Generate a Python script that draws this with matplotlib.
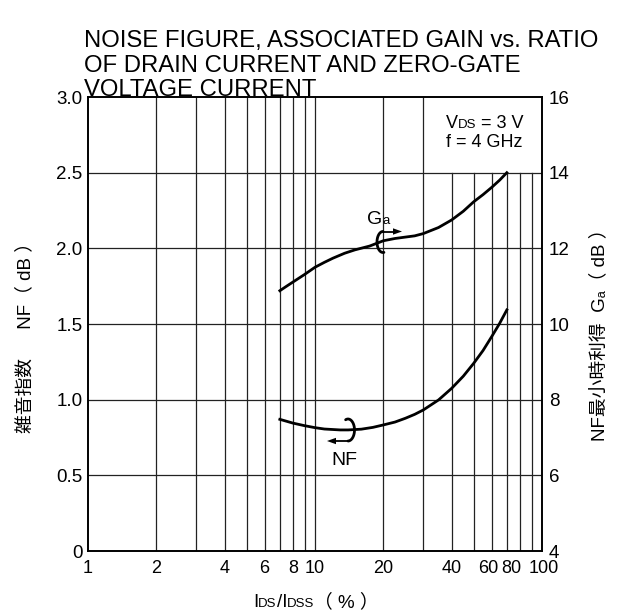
import numpy as np
import matplotlib
matplotlib.use("Agg")
import matplotlib.pyplot as plt
from matplotlib import transforms
from matplotlib.lines import Line2D
from matplotlib.patches import Polygon

FAM = ['Liberation Sans', 'Noto Sans CJK JP', 'DejaVu Sans']
plt.rcParams['font.family'] = FAM

# ---------------- data ----------------
ratio_nf = [7, 8, 9, 10, 11, 12.9, 14, 16, 18, 20, 22.5, 25, 27.5, 30, 35, 40, 45, 50, 55, 60, 65, 70]
nf_db = [0.870, 0.845, 0.828, 0.815, 0.806, 0.800, 0.800, 0.805, 0.817, 0.833, 0.852, 0.877, 0.903,
         0.932, 0.998, 1.075, 1.155, 1.240, 1.325, 1.416, 1.503, 1.593]

ratio_ga = [7, 7.5, 8, 9, 10, 11, 12, 13.5, 15, 17.4, 20, 22.5, 24.5, 27.5, 30, 35, 40, 45, 50, 55, 60, 65, 70]
ga_db = [10.88, 11.00, 11.11, 11.31, 11.50, 11.63, 11.74, 11.87, 11.96, 12.06, 12.20, 12.26, 12.29,
         12.33, 12.39, 12.55, 12.75, 12.98, 13.23, 13.42, 13.61, 13.80, 14.00]

x_ticks = [1, 2, 4, 6, 8, 10, 20, 40, 60, 80, 100]
x_tick_labels = ['1', '2', '4', '6', '8', '10', '20', '40', '60', '80', '100']
x_grid = [2, 3, 4, 5, 6, 7, 8, 9, 10, 20, 30, 40, 50, 60, 70, 80, 90]
nf_ticks = [0, 0.5, 1.0, 1.5, 2.0, 2.5, 3.0]
nf_tick_labels = ['0', '0.5', '1.0', '1.5', '2.0', '2.5', '3.0']
ga_ticks = [4, 6, 8, 10, 12, 14, 16]
ga_tick_labels = ['4', '6', '8', '10', '12', '14', '16']

W, H = 620, 612
fig = plt.figure(figsize=(W / 100, H / 100), dpi=100)
L, R, T, B = 88, 542, 97, 551
ax = fig.add_axes([L / W, 1 - B / H, (R - L) / W, (B - T) / H])
ax.set_xscale('log')
ax.set_xlim(1, 100)
ax.set_ylim(0, 3.0)
ax2 = ax.twinx()
ax2.set_ylim(4, 16)

for a in (ax, ax2):
    for s in a.spines.values():
        s.set_linewidth(1.2)
        s.set_color('black')

TS = 13
ax.set_xticks(x_ticks)
ax.set_xticklabels([])
ax.xaxis.set_minor_locator(matplotlib.ticker.NullLocator())
ax.tick_params(axis='x', length=0)
ax.set_yticks(nf_ticks)
ax.set_yticklabels(nf_tick_labels, fontsize=13.5)
ax.tick_params(axis='y', length=0, pad=4)
ax2.set_yticks(ga_ticks)
ax2.set_yticklabels(ga_tick_labels, fontsize=13.5)
ax2.tick_params(axis='y', length=0, pad=5)

# grid
gcol = '#222222'
for xv in x_grid:
    top = 2.5 if xv >= 40 else 3.0
    ax.plot([xv, xv], [0, top], color=gcol, lw=0.9, zorder=1)
for yv in nf_ticks[1:-1]:
    ax.axhline(yv, color=gcol, lw=0.9, zorder=1)

# x tick labels (manual to allow the crowded labels near 100)
xoff = {'60': -3, '80': -9, '100': 2}
blend = transforms.blended_transform_factory(ax.transData, ax.transAxes)
for v, lab in zip(x_ticks, x_tick_labels):
    tr = blend + transforms.ScaledTranslation(xoff.get(lab, 0) / 100, -9 / 100, fig.dpi_scale_trans)
    ax.text(v, 0, lab, transform=tr, ha='center', va='top', fontsize=TS)

# curves
ax.plot(ratio_nf, nf_db, color='black', lw=2.0, zorder=3, solid_joinstyle='round')
ax2.plot(ratio_ga, ga_db, color='black', lw=2.0, zorder=3, solid_joinstyle='round')

fig.canvas.draw()
renderer = fig.canvas.get_renderer()
ID = transforms.IdentityTransform()


def px(x, y):
    return x, H - y


def seq_text(pieces, x, y, center=True):
    """Horizontal run of pieces (text, size); x,y = top-origin pixel baseline position."""
    objs = []
    for s, fs in pieces:
        t = fig.text(0, 0, s, fontsize=fs, transform=ID, ha='left', va='baseline', family=FAM)
        objs.append(t)
    widths = [t.get_window_extent(renderer).width for t in objs]
    total = sum(widths)
    X, Y = px(x, y)
    cur = X - (total / 2 if center else 0)
    for t, w in zip(objs, widths):
        t.set_position((cur, Y))
        cur += w


LS = 13.5
SS = 9.5
seq_text([('I', LS), ('DS', SS), ('/I', LS), ('DSS', SS), ('（ % ）', LS)], 316, 607)
X, Y = px(25, 333)
fig.text(X, Y, '雑音指数　  NF（ dB ）', transform=ID, fontsize=LS, rotation=90,
         ha='center', va='center', family=FAM)
X, Y = px(599, 330)
fig.text(X, Y, 'NF最小時利得  Gₐ（ dB ）', transform=ID, fontsize=LS, rotation=90,
         ha='center', va='center', family=FAM)

# title
for i, line in enumerate(['NOISE FIGURE, ASSOCIATED GAIN vs. RATIO',
                          'OF DRAIN CURRENT AND ZERO-GATE',
                          'VOLTAGE CURRENT']):
    X, Y = px(84, 47 + 24.5 * i)
    fig.text(X, Y, line, transform=ID, fontsize=17.2, ha='left', va='baseline')

# conditions box text
seq_text([('V', TS), ('DS', SS), (' = 3 V', TS)], 446, 128, center=False)
seq_text([('f = 4 GHz', TS)], 446, 147, center=False)

# annotation labels
seq_text([('G', 14), ('a', 9.5)], 367, 224, center=False)
seq_text([('NF', 14)], 331, 465, center=False)


def draw_px(xs, ys, lw=1.8):
    fig.add_artist(Line2D([x for x in xs], [H - y for y in ys], transform=ID,
                          color='black', lw=lw, solid_capstyle='round'))


def head(tip, direction, length=9, half=3.2):
    x0, y0 = tip
    d = direction
    pts = [(x0, H - y0), (x0 - d * length, H - y0 + half), (x0 - d * length, H - y0 - half)]
    fig.add_artist(Polygon(pts, closed=True, transform=ID, color='black', lw=0))


# Ga curl "(" around the curve, arrow to the right
th = np.linspace(np.pi * 0.5, np.pi * 1.55, 40)
cx, cy, rx, ry = 383, 242, 6, 10.5
draw_px(cx + rx * np.cos(th), cy - ry * np.sin(th), lw=2.0)
draw_px([383, 394], [231.5, 231.5], lw=1.3)
head((402, 231.5), 1)

# NF curl ")" around curve, arrow to the left
th = np.linspace(np.pi * 0.62, -np.pi * 0.5, 40)
cx, cy, rx, ry = 348, 430, 6.5, 11
draw_px(cx + rx * np.cos(th), cy - ry * np.sin(th), lw=2.0)
draw_px([348, 335], [441, 441], lw=1.3)
head((327, 441), -1)

fig.savefig('out.png', dpi=100)
